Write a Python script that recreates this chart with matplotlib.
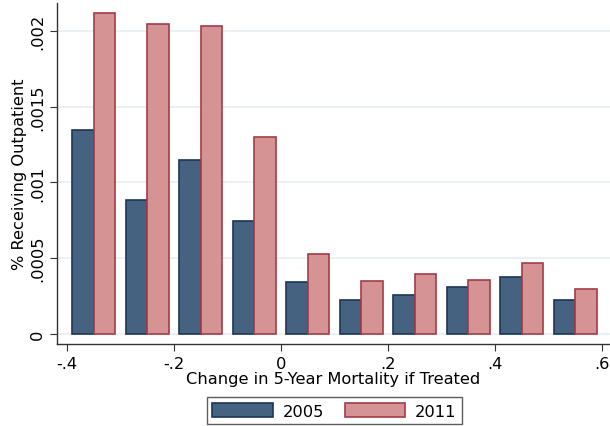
import numpy as np
import matplotlib
matplotlib.use('Agg')
import matplotlib.pyplot as plt

# bin centers of change in 5-year mortality
bin_centers = [-0.35, -0.25, -0.15, -0.05, 0.05, 0.15, 0.25, 0.35, 0.45, 0.55]
share_2005 = [0.001347, 0.000884, 0.001148, 0.000746, 0.000341,
              0.000224, 0.000257, 0.000308, 0.000374, 0.000224]
share_2011 = [0.002117, 0.002046, 0.002033, 0.001300, 0.000526,
              0.000348, 0.000394, 0.000356, 0.000466, 0.000297]
x_ticks = [-0.4, -0.2, 0, 0.2, 0.4, 0.6]
x_ticklabels = ['-.4', '-.2', '0', '.2', '.4', '.6']
y_ticks = [0, 0.0005, 0.001, 0.0015, 0.002]
y_ticklabels = ['0', '.0005', '.001', '.0015', '.002']

plt.rcParams['font.family'] = 'DejaVu Sans'
fs = 11.7

fig = plt.figure(figsize=(6.10, 4.27), dpi=100)
ax = fig.add_axes([0.0934, 0.192, 0.9066, 0.799])

w = 0.04
x = np.array(bin_centers)
b1 = ax.bar(x - w / 2, share_2005, width=w, color='#456280', edgecolor='#1d3559',
            linewidth=1.2, label='2005', zorder=3)
b2 = ax.bar(x + w / 2, share_2011, width=w, color='#d59394', edgecolor='#a23c48',
            linewidth=1.2, label='2011', zorder=3)

ax.set_xlim(-0.419, 0.615)
ax.set_ylim(-0.000066, 0.002185)
ax.set_xticks(x_ticks)
ax.set_xticklabels(x_ticklabels, fontsize=fs)
ax.set_yticks(y_ticks)
ax.set_yticklabels(y_ticklabels, fontsize=fs, rotation=90, va='center')
ax.yaxis.grid(True, color='#e8eff0', linewidth=1.2, zorder=0)
ax.set_axisbelow(True)
for s in ['top', 'right']:
    ax.spines[s].set_visible(False)
for s in ['left', 'bottom']:
    ax.spines[s].set_color('#333333')
    ax.spines[s].set_linewidth(1.0)
ax.tick_params(direction='out', length=5, color='#333333')

ax.set_xlabel('Change in 5-Year Mortality if Treated', fontsize=fs, labelpad=0)
ax.set_ylabel('% Receiving Outpatient', fontsize=fs, labelpad=2)

leg = fig.legend(handles=[b1, b2], loc='center', bbox_to_anchor=(0.548, 0.036),
                 ncol=2, frameon=True, fancybox=False, fontsize=fs,
                 handlelength=3.7, handleheight=1.0, columnspacing=1.3,
                 borderpad=0.35, handletextpad=0.6)
leg.get_frame().set_edgecolor('#333333')
leg.get_frame().set_linewidth(1.0)

plt.savefig('out.png', dpi=100)
